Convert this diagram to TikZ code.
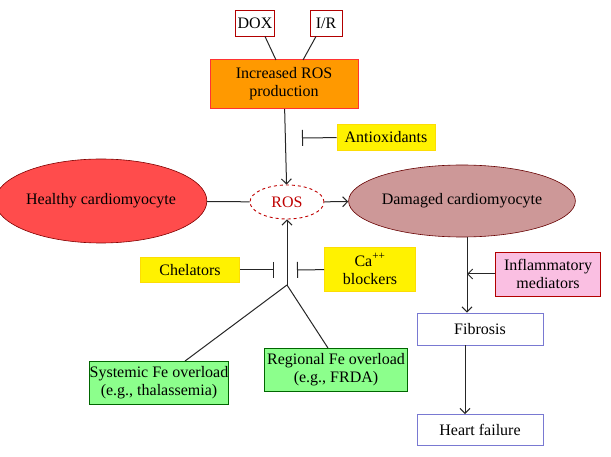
\documentclass[tikz,border=0pt]{standalone}
\usepackage{fontspec}
\setmainfont{Liberation Serif}
\usetikzlibrary{arrows.meta,shapes.geometric}
\begin{document}
\begin{tikzpicture}[x=1pt,y=-1pt,font=\fontsize{16}{18}\selectfont,
 box/.style={draw,rectangle,inner sep=0pt,align=center,line width=0.9pt},
 yel/.style={box,fill=yellow,draw=yellow!80!orange},
 grn/.style={box,fill=green!45!white,draw=green!40!black},
 blu/.style={box,fill=white,draw=blue!50!gray!70},
 ln/.style={line width=1pt,black!85},
 arr/.style={ln,-{Straight Barb[length=5pt,width=10pt]}},
 inh/.style={ln,-{Bar[width=16pt]}}]
\useasboundingbox (0,0) rectangle (611,457);
\node[box,draw=red!70!black,minimum width=39,minimum height=26] (dox) at (255,23) {DOX};
\node[box,draw=red!70!black,minimum width=32,minimum height=26] (ir) at (326,23) {I/R};
\node[box,fill=orange!80!yellow,draw=red!80,minimum width=148,minimum height=49] (inc) at (284,84) {Increased ROS\\production};
\node[yel,minimum width=98,minimum height=26] (anti) at (386,137) {Antioxidants};
\node[ellipse,inner sep=0pt,draw=red!75!black,dashed,line width=0.9pt,minimum width=74,minimum height=34,text=red!75!black] (ros) at (287,202) {ROS};
\node[ellipse,inner sep=0pt,draw=red!50!black,fill=red!70!white,line width=0.6pt,minimum width=184,minimum height=84] (hc) at (101,201) {Healthy cardiomyocyte};
\node[ellipse,inner sep=0pt,draw=red!40!black,fill=red!35!gray!60!white,line width=0.6pt,minimum width=170,minimum height=72] (dc) at (462,201) {Damaged cardiomyocyte};
\node[box,fill=magenta!25!white,draw=red!70!black,minimum width=105,minimum height=44] (inf) at (548,274) {Inflammatory\\mediators};
\node[blu,minimum width=126,minimum height=32] (fib) at (480,329) {Fibrosis};
\node[blu,minimum width=126,minimum height=31] (hf) at (480,430) {Heart failure};
\node[yel,minimum width=99,minimum height=25] (chel) at (190,270) {Chelators};
\node[yel,minimum width=91,minimum height=44] (ca) at (370,269) {Ca\textsuperscript{++}\\blockers};
\node[grn,minimum width=138,minimum height=43] (sys) at (159,383) {Systemic Fe overload\\(e.g., thalassemia)};
\node[grn,minimum width=143,minimum height=43] (reg) at (336,370) {Regional Fe overload\\(e.g., FRDA)};
\coordinate (j) at (287,285);
\coordinate (t1) at (302,138);
\coordinate (t2) at (274,270);
\coordinate (t3) at (297,270);
\coordinate (fx) at (467,274);
\draw[ln] (dox.south -| 265,0) -- (276,60);
\draw[ln] (ir.south -| 316,0) -- (303,60);
\draw[arr] (inc) -- (ros);
\draw[inh] (anti) -- (t1);
\draw[ln] (hc) -- (ros);
\draw[arr] (ros) -- (dc);
\draw[arr] (dc.south -| fx) -- (fib.north -| fx);
\draw[arr] (inf) -- (fx);
\draw[arr] (fib.south -| 465,0) -- (hf.north -| 465,0);
\draw[inh] (chel) -- (t2);
\draw[inh] (ca) -- (t3);
\draw[arr] (j) -- (ros);
\draw[ln] (j) -- (sys.north -| 185,0);
\draw[ln] (j) -- (reg.north -| 328,0);
\end{tikzpicture}
\end{document}
